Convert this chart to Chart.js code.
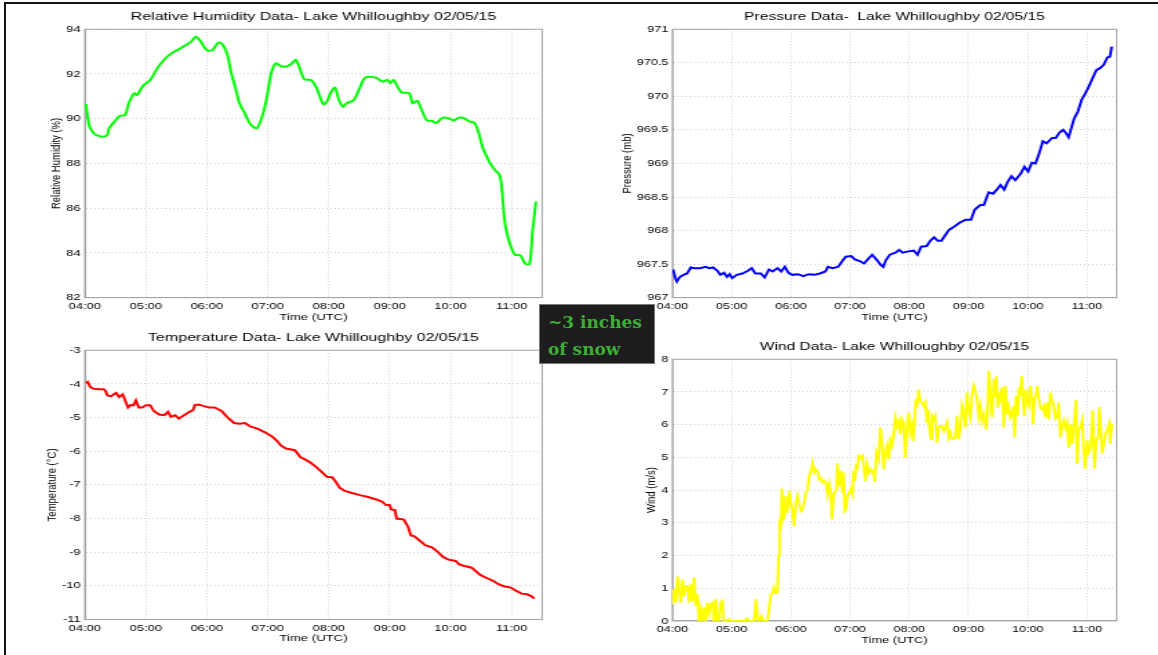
<!DOCTYPE html>
<html>
<head>
<meta charset="utf-8">
<script src="https://cdn.jsdelivr.net/npm/chart.js@4.4.0/dist/chart.umd.min.js"></script>
<style>
  html, body { margin: 0; padding: 0; background: #fff; }
  body { width: 1158px; height: 655px; position: relative; overflow: hidden; }
  #frame { position: absolute; left: 4px; top: 2px; width: 1180px; height: 680px;
           border-top: 2px solid #111; border-left: 2px solid #111; }
  .panel { position: absolute; transform-origin: 0 0; }
  .panel canvas { display: block; }
  #snow { position: absolute; left: 539px; top: 304px; width: 116px; height: 60px; box-sizing: border-box;
          background: #1d1d1d; border: 1px solid #777; color: #3fae36;
          font: bold 17px "DejaVu Serif", "Liberation Serif", serif; line-height: 27px;
          padding: 4px 0 0 8px; z-index: 5; }
</style>
</head>
<body>
<div id="frame"></div>
<div class="panel" id="p-rh"><canvas></canvas></div>
<div class="panel" id="p-pres"><canvas></canvas></div>
<div class="panel" id="p-temp"><canvas></canvas></div>
<div class="panel" id="p-wind"><canvas></canvas></div>
<div id="snow">~3 inches<br>of snow</div>
<script>
// times are minutes after 04:00 UTC
const rhTime = [1, 4.6, 8.8, 13.4, 18.6, 22.1, 23.9, 29.2, 34.4, 39.7,
  43.2, 48.5, 51.3, 57.3, 64.3, 71.4, 78.4, 85.4, 92.4, 99.5,
  104.7, 109.3, 113.5, 117.1, 120.6, 125.8, 131.1, 134.6, 139.9, 143.4,
  148.7, 152.2, 157.5, 162.7, 169.1, 175.0, 178.6, 183.8, 188.1, 192.6,
  197.9, 203.2, 207.7, 212.0, 216.2, 222.5, 227.8, 231.3, 234.8, 238.3,
  241.8, 246.1, 250.0, 254.1, 257.7, 264.7, 270.0, 275.2, 280.5, 287.5,
  292.8, 298.1, 300.5, 304.0, 307.6, 312.1, 319.2, 322.7, 327.2, 331.5,
  336.7, 342.0, 345.5, 352.5, 359.6, 363.1, 368.4, 373.6, 377.2, 383.5,
  387.7, 391.2, 394.7, 398.9, 403.5, 408.1, 410.5, 413.0, 415.8, 419.3,
  423.6, 428.1, 430.9, 433.4, 437.6, 440.4, 443.9];
const rhValue = [90.66, 89.65, 89.35, 89.23, 89.2, 89.28, 89.57, 89.87, 90.13, 90.17,
  90.69, 91.14, 91.06, 91.47, 91.73, 92.26, 92.66, 92.93, 93.1, 93.3,
  93.45, 93.67, 93.49, 93.23, 93.05, 93.08, 93.4, 93.37, 92.93, 92.18,
  91.29, 90.69, 90.24, 89.77, 89.57, 90.17, 90.84, 92.1, 92.48, 92.36,
  92.33, 92.45, 92.63, 92.18, 91.76, 91.73, 91.4, 90.99, 90.65, 90.77,
  91.14, 91.39, 90.84, 90.54, 90.69, 90.84, 91.32, 91.81, 91.88, 91.81,
  91.66, 91.73, 91.59, 91.73, 91.44, 91.17, 91.14, 90.69, 90.8, 90.39,
  89.92, 89.9, 89.8, 90.05, 89.99, 89.92, 90.05, 90.02, 89.9, 89.8,
  89.35, 88.75, 88.38, 88.0, 87.71, 87.49, 86.82, 85.48, 84.8, 84.28,
  83.91, 83.91, 83.72, 83.51, 83.51, 84.88, 86.3];

const presTime = [0.7, 3.0, 4.5, 7.5, 11.2, 14.9, 18.7, 22.4, 28.0, 33.6,
  37.3, 41.1, 45.6, 48.5, 52.3, 55.3, 57.9, 60.5, 65.3, 70.9,
  76.5, 80.3, 84.0, 89.6, 93.4, 97.8, 101.6, 106.4, 110.2, 113.9,
  117.6, 121.4, 127.0, 132.6, 138.2, 143.8, 149.4, 155.0, 157.6, 162.4,
  168.0, 171.8, 175.5, 181.1, 184.8, 190.4, 194.2, 197.9, 202.4, 207.2,
  210.9, 213.6, 216.3, 220.3, 225.9, 229.6, 233.4, 239.0, 244.6, 248.3,
  252.0, 257.6, 261.4, 265.1, 268.8, 272.6, 276.3, 280.1, 285.7, 291.3,
  296.9, 302.5, 306.2, 311.8, 315.5, 320.4, 324.9, 328.6, 332.3, 336.1,
  339.8, 343.5, 347.3, 352.9, 356.6, 360.3, 364.1, 367.8, 371.5, 375.3,
  379.0, 384.6, 388.3, 392.1, 395.8, 398.8, 401.4, 404.0, 407.0, 410.7,
  414.5, 418.2, 421.9, 425.7, 429.4, 433.1, 436.9, 440.6, 443.2, 445.1];
const presValue = [967.42, 967.29, 967.24, 967.31, 967.34, 967.36, 967.45, 967.44, 967.44, 967.46,
  967.44, 967.45, 967.40, 967.34, 967.37, 967.31, 967.35, 967.29, 967.34, 967.36,
  967.40, 967.44, 967.36, 967.36, 967.30, 967.42, 967.39, 967.44, 967.39, 967.46,
  967.37, 967.34, 967.35, 967.32, 967.35, 967.34, 967.36, 967.39, 967.46, 967.44,
  967.46, 967.54, 967.61, 967.62, 967.57, 967.54, 967.51, 967.57, 967.64, 967.56,
  967.49, 967.46, 967.56, 967.64, 967.67, 967.71, 967.67, 967.69, 967.70, 967.64,
  967.76, 967.77, 967.85, 967.90, 967.85, 967.85, 967.93, 968.01, 968.06, 968.12,
  968.16, 968.16, 968.31, 968.38, 968.38, 968.57, 968.55, 968.61, 968.68, 968.61,
  968.73, 968.81, 968.75, 968.85, 968.95, 968.88, 969.01, 969.00, 969.15, 969.33,
  969.30, 969.38, 969.38, 969.46, 969.50, 969.45, 969.39, 969.52, 969.67, 969.77,
  969.95, 970.04, 970.15, 970.27, 970.39, 970.42, 970.47, 970.58, 970.59, 970.74];

const tempTime = [1.1, 2.8, 5.3, 8.1, 13.4, 18.6, 20.4, 22.1, 25.7, 28.5,
  30.9, 33.7, 37.3, 39.7, 42.5, 45.0, 47.8, 50.3, 53.1, 56.6,
  60.1, 64.3, 67.8, 73.1, 78.4, 81.9, 84.7, 88.9, 92.4, 97.7,
  103.0, 106.5, 108.3, 111.8, 117.0, 122.3, 127.6, 134.6, 139.9, 146.9,
  152.2, 157.5, 162.7, 169.8, 176.8, 183.8, 189.1, 192.6, 197.9, 206.7,
  212.0, 217.2, 222.5, 227.8, 233.0, 238.3, 243.6, 247.1, 250.6, 255.9,
  262.9, 271.7, 278.7, 287.5, 292.8, 296.3, 299.8, 301.6, 305.1, 306.9,
  313.9, 318.1, 320.9, 324.4, 329.7, 335.0, 342.0, 347.3, 352.5, 357.8,
  364.9, 368.4, 373.6, 380.7, 384.2, 389.5, 396.5, 401.8, 407.0, 412.3,
  419.3, 424.6, 429.9, 435.2, 439.7, 442.2];
const tempValue = [-3.97, -3.94, -4.09, -4.14, -4.16, -4.16, -4.21, -4.34, -4.37, -4.31,
  -4.27, -4.39, -4.31, -4.49, -4.70, -4.63, -4.64, -4.49, -4.70, -4.70,
  -4.63, -4.63, -4.80, -4.91, -4.93, -4.83, -4.98, -4.93, -5.03, -4.93,
  -4.83, -4.78, -4.63, -4.61, -4.66, -4.70, -4.70, -4.80, -4.98, -5.16,
  -5.18, -5.16, -5.26, -5.33, -5.43, -5.55, -5.69, -5.82, -5.92, -5.97,
  -6.17, -6.25, -6.35, -6.47, -6.61, -6.76, -6.78, -6.91, -7.08, -7.18,
  -7.24, -7.31, -7.36, -7.44, -7.50, -7.60, -7.60, -7.73, -7.75, -8.00,
  -8.03, -8.25, -8.50, -8.53, -8.66, -8.79, -8.86, -8.99, -9.14, -9.22,
  -9.26, -9.36, -9.41, -9.46, -9.55, -9.68, -9.78, -9.85, -9.95, -10.01,
  -10.05, -10.15, -10.23, -10.25, -10.31, -10.38];

const windTime = [0, 1.7, 3.4, 5.1, 6.8, 8.4, 10.1, 11.8, 13.5, 15.2,
  16.9, 18.6, 20.3, 22.0, 23.6, 25.3, 27.0, 28.7, 30.4, 32.1,
  33.8, 35.5, 37.2, 38.8, 40.5, 42.2, 43.9, 45.6, 47.3, 49.0,
  50.7, 51.7, 54.0, 57.4, 59.1, 65.9, 72.6, 75.3, 77.7, 82.8,
  84.5, 86.1, 87.8, 90.2, 92.2, 96.3, 99.7, 101.3, 103.0, 104.7,
  106.4, 107.4, 108.4, 109.8, 110.8, 112.2, 113.2, 114.5, 115.9, 117.2,
  118.6, 119.9, 121.6, 123.3, 125.0, 126.7, 128.4, 130.1, 131.7, 133.4,
  135.1, 136.8, 138.5, 140.2, 141.9, 143.6, 145.3, 146.9, 148.6, 150.3,
  152.0, 153.7, 155.4, 157.1, 158.8, 160.5, 161.5, 163.2, 164.5, 166.2,
  167.2, 168.9, 170.6, 172.3, 173.3, 174.6, 176.0, 177.3, 179.0, 180.7,
  182.4, 183.4, 184.8, 186.1, 187.5, 188.8, 190.9, 192.5, 194.2, 195.4,
  197.1, 198.8, 200.5, 202.2, 203.9, 204.9, 206.6, 208.9, 210.6, 212.3,
  214.0, 215.7, 217.4, 219.1, 220.7, 222.4, 224.1, 225.8, 227.5, 229.2,
  230.9, 232.6, 234.3, 235.9, 237.6, 239.3, 241.0, 242.7, 243.7, 245.1,
  246.4, 247.8, 249.5, 251.1, 252.8, 254.5, 256.2, 257.9, 258.9, 260.3,
  262.0, 263.0, 264.7, 266.3, 268.0, 269.7, 271.4, 273.1, 274.8, 276.5,
  278.2, 279.9, 281.5, 283.2, 284.9, 286.6, 288.3, 290.0, 291.7, 293.4,
  295.1, 296.7, 298.4, 300.1, 301.8, 303.5, 305.2, 306.9, 308.6, 310.3,
  312.0, 313.6, 315.3, 317.0, 318.0, 319.4, 320.4, 322.1, 323.8, 325.5,
  327.2, 328.2, 329.5, 330.9, 332.2, 333.9, 335.6, 337.3, 339.0, 340.7,
  342.4, 344.0, 345.7, 346.7, 348.1, 349.8, 351.1, 352.5, 353.8, 355.2,
  356.5, 357.9, 359.2, 360.9, 362.6, 364.3, 365.3, 366.7, 368.4, 369.4,
  371.1, 372.8, 374.4, 376.1, 377.8, 379.5, 381.2, 382.9, 384.6, 386.3,
  388.0, 389.6, 391.3, 393.0, 394.7, 396.4, 398.1, 399.8, 401.5, 403.2,
  405.1, 407.0, 408.9, 410.0, 411.5, 413.4, 415.2, 416.3, 418.2, 420.1,
  421.9, 423.8, 425.7, 427.6, 429.4, 431.3, 432.4, 433.9, 435.4, 436.9,
  438.7, 440.6, 442.5, 443.6, 445.1];
const windSpeed = [0.51, 0.97, 0.56, 1.36, 0.87, 0.56, 1.27, 0.76, 1.07, 1.07,
  0.56, 1.12, 0.61, 1.33, 0.46, 0.82, 0, 0.36, 0, 0.41,
  0, 0.56, 0.25, 0.51, 0.56, 0, 0.66, 0, 0.05, 0.56,
  0.61, 0, 0.02, 0.05, 0, 0, 0, 0.07, 0, 0,
  0.66, 0.10, 0, 0.15, 0, 0, 0.82, 0.85, 1.02, 0.85,
  0.87, 1.99, 3.11, 2.8, 4.05, 3.11, 3.16, 3.82, 3.31, 3.52,
  3.98, 3.62, 3.41, 2.9, 3.62, 3.82, 3.57, 3.36, 3.41, 3.62,
  3.92, 3.98, 4.43, 4.59, 4.82, 4.54, 4.64, 4.59, 4.33, 4.38,
  4.23, 4.28, 4.23, 3.87, 4.18, 3.92, 3.11, 3.82, 3.92, 4.05,
  4.82, 4.13, 4.59, 3.92, 4.54, 3.36, 3.41, 3.82, 3.92, 4.03,
  3.87, 4.59, 4.28, 4.74, 4.69, 5.05, 4.99, 5.05, 4.64, 4.28,
  4.79, 4.54, 4.64, 4.54, 4.59, 4.25, 5.15, 4.94, 5.91, 5.45,
  4.64, 5.15, 5.35, 4.94, 5.5, 5.35, 5.71, 6.22, 5.96, 6.12,
  5.71, 6.17, 6.07, 4.99, 5.86, 6.37, 5.76, 5.96, 5.5, 5.96,
  6.78, 6.52, 7.08, 6.73, 6.68, 6.57, 6.68, 6.07, 6.47, 5.91,
  5.56, 6.27, 6.17, 6.27, 5.45, 5.91, 5.96, 5.96, 5.81, 5.91,
  6.07, 5.61, 5.76, 5.56, 5.56, 5.61, 6.27, 5.56, 5.86, 6.57,
  6.37, 5.91, 6.98, 6.47, 6.22, 6.88, 7.19, 7.03, 6.78, 6.27,
  6.57, 6.12, 6.32, 6.01, 5.86, 6.57, 7.65, 6.88, 6.22, 7.39,
  6.88, 7.49, 6.52, 6.98, 6.68, 7.14, 5.91, 7.19, 6.32, 6.57,
  6.22, 6.32, 6.57, 5.61, 6.88, 6.27, 7.14, 6.88, 7.49, 6.78,
  6.27, 7.08, 6.68, 6.57, 7.19, 6.68, 6.01, 6.78, 6.93, 7.19,
  6.78, 6.52, 6.47, 6.57, 6.22, 6.68, 6.17, 6.98, 6.73, 6.57,
  6.17, 6.22, 6.68, 5.61, 5.96, 6.12, 5.91, 6.07, 5.3, 6.01,
  5.42, 6.09, 6.75, 4.81, 5.83, 5.93, 6.14, 5.32, 4.66, 5.53,
  5.17, 5.32, 6.44, 4.66, 5.53, 5.63, 6.54, 5.83, 5.12, 5.37,
  5.73, 5.83, 6.03, 5.42, 6.03];

const FONT = '"Liberation Sans", Arial, Helvetica, sans-serif';
const TITLE_SIZE = 11.6;
const TICK_SIZE = 9.4;
const LABEL_SIZE = 9.5;
const Y_AXIS_W = 60;   // px before stretching
const X_AXIS_H = 25;
const TITLE_GAP = 12.3; // title centre above plot top
const GRID = '#d2d2d2';
const BOX = '#a6a6a6';

// matlab-like full box around the axes
const boxPlugin = {
  id: 'axesBox',
  beforeDatasetsDraw(chart) {
    const { ctx, chartArea: a } = chart;
    ctx.save();
    ctx.strokeStyle = BOX;
    ctx.lineWidth = 1;
    ctx.strokeRect(a.left, a.top, a.right - a.left, a.bottom - a.top);
    ctx.restore();
  }
};

function hourLabel(v) {
  const h = 4 + v / 60;
  return (h < 10 ? '0' : '') + h + ':00';
}

function makePanel(cfg) {
  const s = cfg.stretch;
  const plotW = (cfg.box.right - cfg.box.left) / s;
  const plotH = cfg.box.bottom - cfg.box.top;
  const titleLH = TITLE_SIZE * 1.2;
  const titlePadBottom = TITLE_GAP - titleLH / 2;
  const topBlock = titleLH + titlePadBottom;
  const w = Math.ceil(Y_AXIS_W + plotW + 4);
  const h = Math.ceil(topBlock + plotH + X_AXIS_H + 2);
  const labelLH = LABEL_SIZE * 1.2;

  const wrap = document.getElementById(cfg.id);
  wrap.style.left = (cfg.box.left - Y_AXIS_W * s) + 'px';
  wrap.style.top = (cfg.box.top - topBlock) + 'px';
  wrap.style.transform = 'scaleX(' + s + ')';
  const canvas = wrap.querySelector('canvas');
  canvas.width = w;
  canvas.height = h;
  canvas.style.width = w + 'px';
  canvas.style.height = h + 'px';

  new Chart(canvas, {
    type: 'line',
    data: {
      datasets: [{
        data: cfg.time.map((t, i) => ({ x: t, y: cfg.values[i] })),
        borderColor: cfg.color,
        borderWidth: 2,
        pointRadius: 0,
        tension: cfg.tension
      }]
    },
    options: {
      responsive: false,
      animation: false,
      layout: {
        padding: { left: 0, top: 0, right: w - Y_AXIS_W - plotW, bottom: h - topBlock - plotH - X_AXIS_H }
      },
      plugins: {
        legend: { display: false },
        tooltip: { enabled: false },
        title: {
          display: true,
          text: cfg.title,
          fullSize: false,
          color: '#000',
          font: { family: FONT, size: TITLE_SIZE, weight: 'normal' },
          padding: { top: 0, bottom: titlePadBottom }
        }
      },
      scales: {
        x: {
          type: 'linear',
          min: 0,
          max: 450,
          afterFit: (sc) => { sc.height = X_AXIS_H; },
          ticks: {
            stepSize: 60, includeBounds: false, autoSkip: false, maxRotation: 0, padding: 3,
            color: '#000', font: { family: FONT, size: TICK_SIZE },
            callback: hourLabel
          },
          grid: { color: GRID, drawTicks: false },
          border: { color: BOX, dash: [1, 2] },
          title: { display: true, text: 'Time (UTC)', color: '#000', padding: 0,
                   font: { family: FONT, size: LABEL_SIZE } }
        },
        y: {
          min: cfg.yMin,
          max: cfg.yMax,
          afterFit: (sc) => { sc.width = Y_AXIS_W; },
          ticks: {
            stepSize: cfg.yStep, padding: 3,
            color: '#000', font: { family: FONT, size: TICK_SIZE },
            callback: (v) => String(v)
          },
          grid: { color: GRID, drawTicks: false },
          border: { color: BOX, dash: [1, 2] },
          title: { display: true, text: cfg.ylabel, color: '#000',
                   padding: { top: Y_AXIS_W - cfg.ylabelGap - labelLH / 2, bottom: 0 },
                   font: { family: FONT, size: LABEL_SIZE } }
        }
      }
    },
    plugins: [boxPlugin]
  });
}

makePanel({
  id: 'p-rh', stretch: 1.38, box: { left: 84.6, right: 541.9, top: 29.3, bottom: 297.7 },
  title: 'Relative Humidity Data- Lake Whilloughby 02/05/15', ylabel: 'Relative Humidity (%)', ylabelGap: 20.5,
  time: rhTime, values: rhValue, color: '#00ff00', tension: 0.3, yMin: 82, yMax: 94, yStep: 2
});
makePanel({
  id: 'p-pres', stretch: 1.34, box: { left: 672.1, right: 1116.3, top: 29.3, bottom: 297.7 },
  title: 'Pressure Data-  Lake Whilloughby 02/05/15', ylabel: 'Pressure (mb)', ylabelGap: 33.4,
  time: presTime, values: presValue, color: '#0000ff', tension: 0, yMin: 967, yMax: 971, yStep: 0.5
});
makePanel({
  id: 'p-temp', stretch: 1.38, box: { left: 84.6, right: 541.9, top: 350, bottom: 619.3 },
  title: 'Temperature Data- Lake Whilloughby 02/05/15', ylabel: 'Temperature (°C)', ylabelGap: 23.8,
  time: tempTime, values: tempValue, color: '#ff0000', tension: 0, yMin: -11, yMax: -3, yStep: 1
});
makePanel({
  id: 'p-wind', stretch: 1.34, box: { left: 672.1, right: 1116.3, top: 359, bottom: 620.7 },
  title: 'Wind Data- Lake Whilloughby 02/05/15', ylabel: 'Wind (m/s)', ylabelGap: 15.7,
  time: windTime, values: windSpeed, color: '#ffff00', tension: 0, yMin: 0, yMax: 8, yStep: 1
});
</script>
</body>
</html>
